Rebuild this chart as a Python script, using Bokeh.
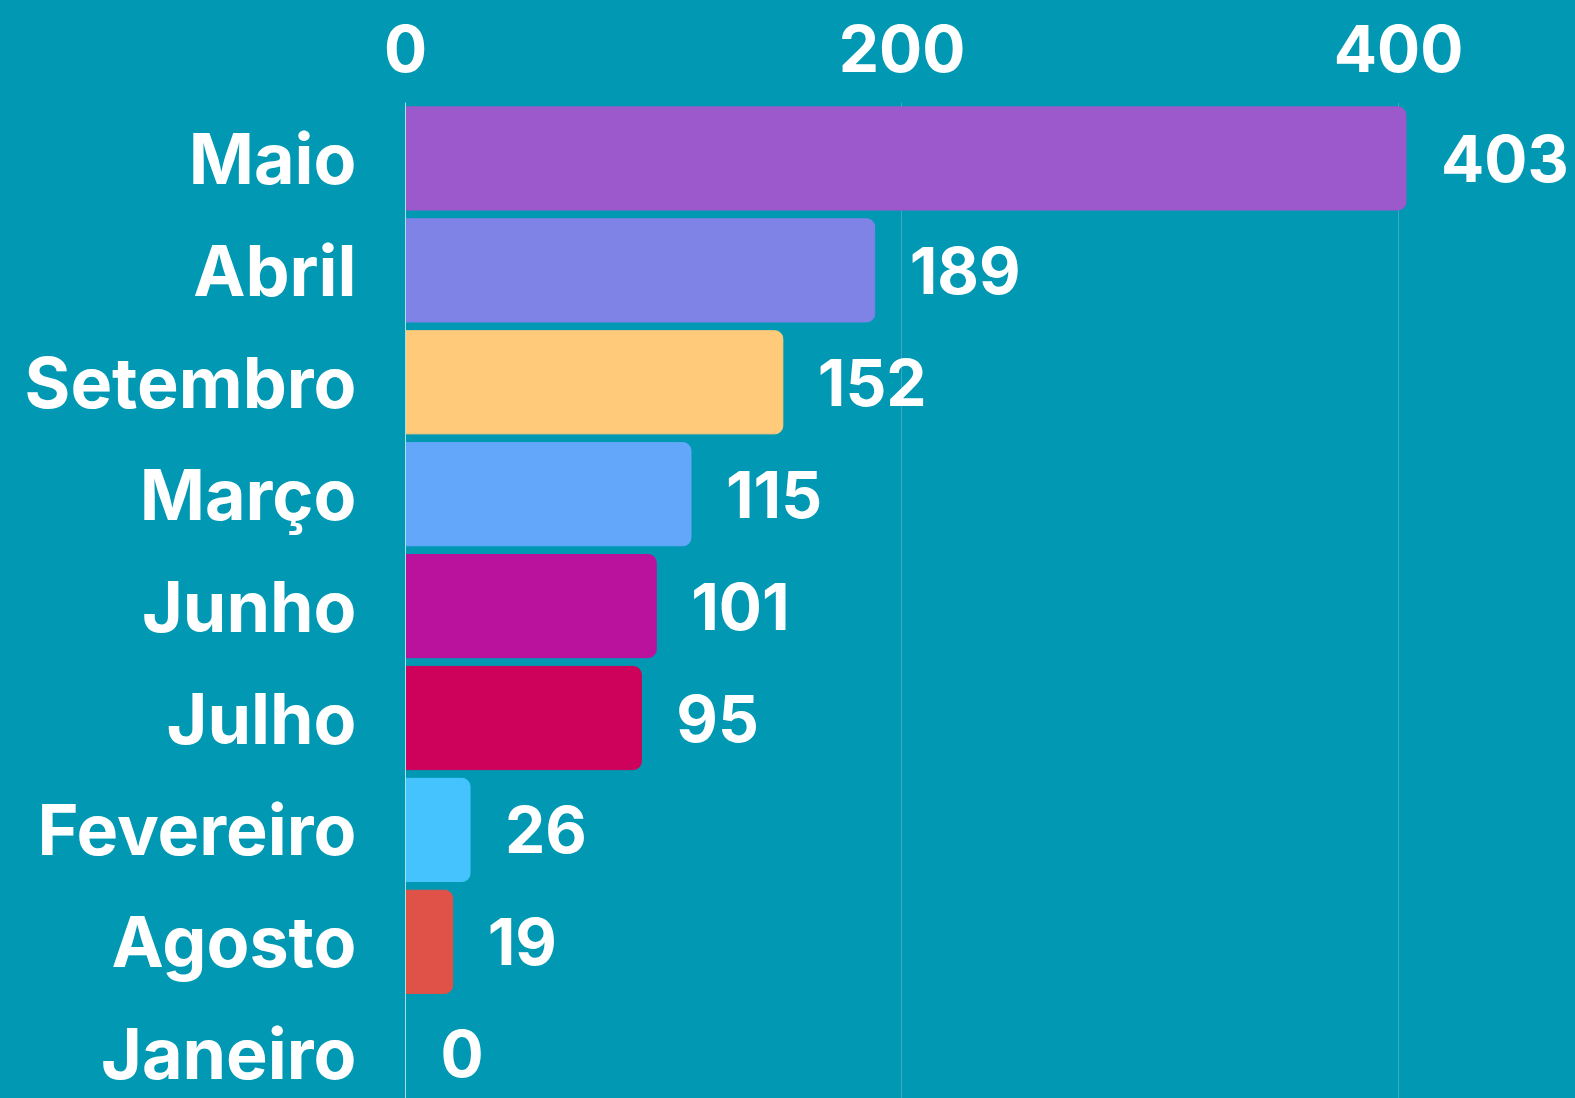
from bokeh.plotting import figure
from bokeh.models import Range1d, FixedTicker, ColumnDataSource
from bokeh.core.properties import value
from bokeh.embed import file_html
from bokeh.resources import INLINE

months = ["Maio", "Abril", "Setembro", "Março", "Junho", "Julho", "Fevereiro", "Agosto", "Janeiro"]
counts = [403, 189, 152, 115, 101, 95, 26, 19, 0]
colors = ["#9b59cb", "#7f83e6", "#ffca7a", "#63a7fa", "#bb129e", "#cf025b", "#45c3fe", "#e05248", "#e05248"]
x_ticks = [0, 200, 400]

BG = "#0098b2"
FONT = "Inter"
FS_MONTH = "70px"
FS_NUM = "64px"

pos = list(range(len(months)))
src = ColumnDataSource(dict(y=pos, v=counts, c=colors, t=[str(v) for v in counts]))

p = figure(width=1575, height=1098, output_backend="svg", toolbar_location=None,
           x_range=Range1d(0, 471.3), y_range=Range1d(8.4, -0.5),
           x_axis_location="above")
p.background_fill_color = BG
p.border_fill_color = BG
p.outline_line_color = None
p.min_border_left = 405
p.min_border_right = 0
p.min_border_bottom = 0
p.min_border_top = 102

p.hbar(y="y", right="v", left=0, height=0.922, color="c", source=src,
       border_radius=(0, 8, 8, 0))
p.text(x="v", y="y", text="t", source=src, x_offset=35, y_offset=0,
       text_align="left", text_baseline="middle", text_color="white",
       text_font=value(FONT), text_font_style="bold", text_font_size=FS_NUM)

xt = FixedTicker(ticks=x_ticks)
p.xaxis.ticker = xt
p.xgrid.ticker = xt
p.xaxis.axis_line_color = None
p.xaxis.major_tick_line_color = None
p.xaxis.minor_tick_line_color = None
p.xaxis.major_label_text_color = "white"
p.xaxis.major_label_text_font = FONT
p.xaxis.major_label_text_font_style = "bold"
p.xaxis.major_label_text_font_size = FS_NUM
p.xaxis.major_label_standoff = 25

p.yaxis.ticker = FixedTicker(ticks=pos)
p.yaxis.major_label_overrides = {i: m for i, m in enumerate(months)}
p.yaxis.axis_line_color = "#a6e0ec"
p.yaxis.major_tick_line_color = None
p.yaxis.minor_tick_line_color = None
p.yaxis.major_label_text_color = "white"
p.yaxis.major_label_text_font = FONT
p.yaxis.major_label_text_font_style = "bold"
p.yaxis.major_label_text_font_size = FS_MONTH
p.yaxis.major_label_standoff = 43

p.xgrid.grid_line_color = "#3aaac0"
p.xgrid.grid_line_width = 1
p.ygrid.grid_line_color = None

tmpl = """{% block postamble %}<style>html, body { background: #0098b2; margin: 0; padding: 0; overflow: hidden; }</style>{% endblock %}"""
open("out.html", "w").write(file_html(p, INLINE, template=tmpl))
